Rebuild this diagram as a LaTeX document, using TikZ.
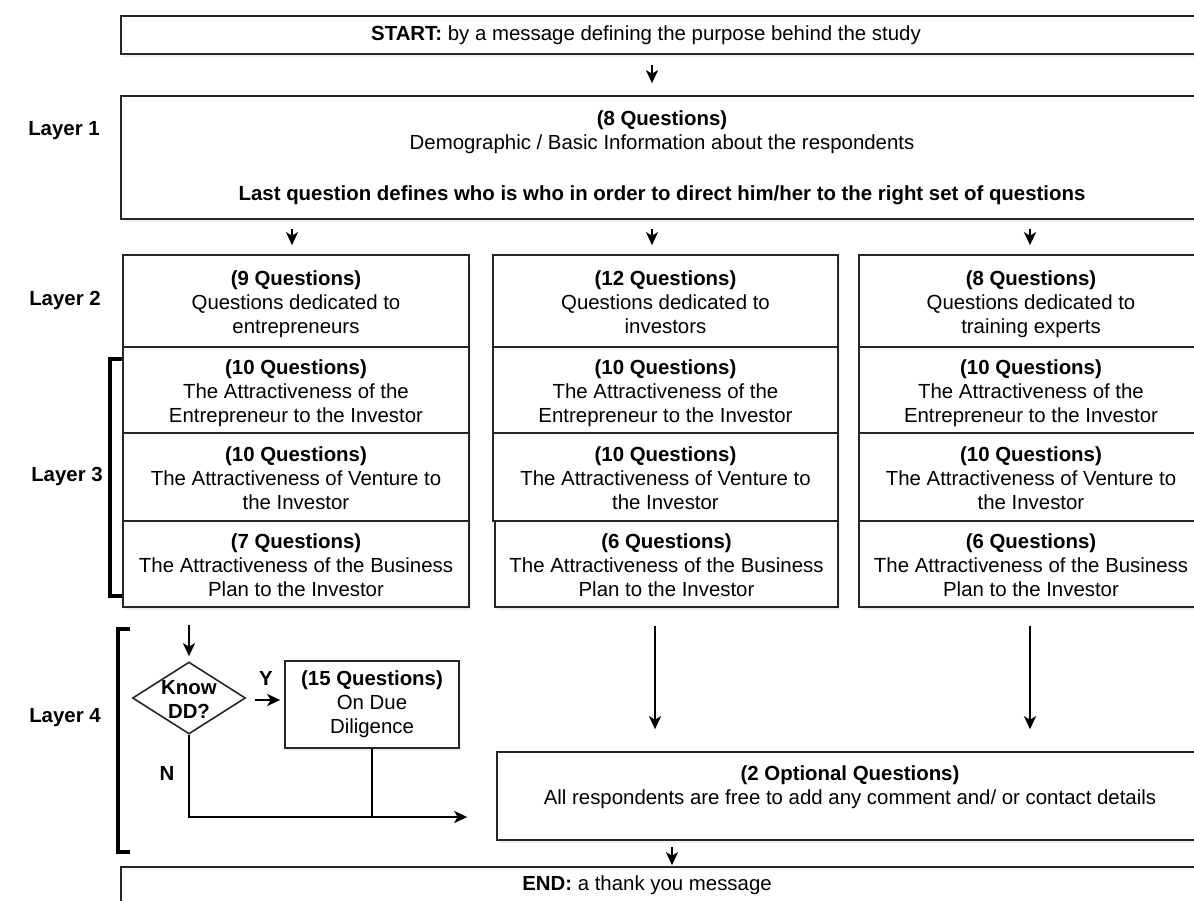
\documentclass[tikz,border=0pt]{standalone}
\usepackage{fontspec}
\setmainfont{Liberation Sans}
\usetikzlibrary{arrows.meta,shapes.geometric,shadows,calc}

\begin{document}
\begin{tikzpicture}[x=1pt,y=-1pt,
  every node/.style={font=\fontsize{20.4}{24}\selectfont, align=center, inner sep=0pt},
  box/.style={draw=black!85, line width=1.6pt, fill=white, rectangle,
    drop shadow={opacity=0.12, shadow xshift=1.5pt, shadow yshift=-2.5pt}},
  qbox/.style={box, text height=72pt, text depth=7pt},
  lbl/.style={font=\fontsize{20.4}{24}\selectfont\bfseries},
  conn/.style={line width=2.6pt, black},
  arr/.style={conn, -{Stealth[length=13pt, width=12pt, inset=3.5pt]}},
  brk/.style={line width=4.2pt, black, line cap=butt, line join=miter},
  diam/.style={diamond, draw=black!85, line width=1.6pt, fill=white,
    minimum width=113pt, minimum height=72pt, inner sep=0pt}
]
\useasboundingbox (0,0) rectangle (1194,900);
\fill[white] (0,0) rectangle (1194,900);
\clip (0,0) rectangle (1194,900);

% start and layer 1
\node[box, minimum width=1082pt, minimum height=38pt] (start) at (662,35) {};
\node (starttxt) at (646,35) {\textbf{START:} by a message defining the purpose behind the study};

\node[box, minimum width=1082pt, minimum height=123pt] (l1) at (662,157.5)
  {\textbf{(8 Questions)}\\Demographic / Basic Information about the respondents\\[27pt]%
   \textbf{Last question defines who is who in order to direct him/her to the right set of questions}};

% column 1
\node[qbox, minimum width=346pt, minimum height=92pt] (c1l2) at (296,301)
  {\textbf{(9 Questions)}\\Questions dedicated to\\entrepreneurs};
\node[qbox, minimum width=346pt, minimum height=86pt] (c1r1) at (296,390)
  {\textbf{(10 Questions)}\\The Attractiveness of the\\Entrepreneur to the Investor};
\node[qbox, minimum width=346pt, minimum height=88pt] (c1r2) at (296,477)
  {\textbf{(10 Questions)}\\The Attractiveness of Venture to\\the Investor};
\node[qbox, minimum width=346pt, minimum height=86pt] (c1r3) at (296,564)
  {\textbf{(7 Questions)}\\The Attractiveness of the Business\\Plan to the Investor};

% column 2
\node[qbox, minimum width=345pt, minimum height=92pt] (c2l2) at (665.5,301)
  {\textbf{(12 Questions)}\\Questions dedicated to\\investors};
\node[qbox, minimum width=345pt, minimum height=86pt] (c2r1) at (665.5,390)
  {\textbf{(10 Questions)}\\The Attractiveness of the\\Entrepreneur to the Investor};
\node[qbox, minimum width=345pt, minimum height=88pt] (c2r2) at (665.5,477)
  {\textbf{(10 Questions)}\\The Attractiveness of Venture to\\the Investor};
\node[qbox, minimum width=343pt, minimum height=86pt] (c2r3) at (666.5,564)
  {\textbf{(6 Questions)}\\The Attractiveness of the Business\\Plan to the Investor};

% column 3
\node[qbox, minimum width=344pt, minimum height=92pt] (c3l2) at (1031,301)
  {\textbf{(8 Questions)}\\Questions dedicated to\\training experts};
\node[qbox, minimum width=344pt, minimum height=86pt] (c3r1) at (1031,390)
  {\textbf{(10 Questions)}\\The Attractiveness of the\\Entrepreneur to the Investor};
\node[qbox, minimum width=344pt, minimum height=88pt] (c3r2) at (1031,477)
  {\textbf{(10 Questions)}\\The Attractiveness of Venture to\\the Investor};
\node[qbox, minimum width=344pt, minimum height=86pt] (c3r3) at (1031,564)
  {\textbf{(6 Questions)}\\The Attractiveness of the Business\\Plan to the Investor};

% layer 4
\node[diam] (dd) at (189,698) {};
\node[lbl] (ddtxt) at (189,699.5) {Know\\DD?};
\node[box, minimum width=174pt, minimum height=87pt] (ddq) at (372,704.5)
  {\textbf{(15 Questions)}\\On Due\\Diligence};
\node[box, minimum width=706pt, minimum height=88pt] (opt) at (850,796) {};
\node (opttxt) at (850,787)
  {\textbf{(2 Optional Questions)}\\All respondents are free to add any comment and/ or contact details};

% end
\node[box, minimum width=1082pt, minimum height=46pt] (endb) at (662,890) {};
\node (endtxt) at (647,885) {\textbf{END:} a thank you message};

% layer labels
\node[lbl] (lay1) at (64,131) {Layer 1};
\node[lbl] (lay2) at (65,300) {Layer 2};
\node[lbl] (lay3) at (67,476) {Layer 3};
\node[lbl] (lay4) at (65,718) {Layer 4};

% brackets
\draw[brk] ([yshift=-13pt]c1r1.north west) -- ++(-12,0) |- ([yshift=12pt]c1r3.south west);
\draw[brk] (130,629) -- (118,629) -- (118,852) -- (130,852);

% connectors
\draw[arr, shorten <=10pt, shorten >=12pt] ([xshift=-10pt]start.south) -- ([xshift=-10pt]l1.north);
\draw[arr, shorten <=9pt, shorten >=9pt] ([xshift=-4pt]c1l2.north |- l1.south) -- ([xshift=-4pt]c1l2.north);
\draw[arr, shorten <=9pt, shorten >=9pt] ([xshift=-13.5pt]c2l2.north |- l1.south) -- ([xshift=-13.5pt]c2l2.north);
\draw[arr, shorten <=9pt, shorten >=9pt] ([xshift=-1pt]c3l2.north |- l1.south) -- ([xshift=-1pt]c3l2.north);

\draw[arr, shorten <=17pt, shorten >=5pt] (dd |- c1r3.south) -- (dd.north);
\draw[arr, shorten <=9pt, shorten >=4pt] ([yshift=-2pt]dd.east) -- ([yshift=-2pt]dd.east -| ddq.west);
\node[lbl] (ylbl) at (266,678) {Y};
\node[lbl] (nlbl) at (167,773) {N};
\coordinate (merge) at (ddq.south |- 0,817);
\draw[conn] (ddq.south) -- (merge);
\draw[arr] (dd.south) |- (merge) -- ([xshift=-29pt]opt.west |- merge);

\draw[arr, shorten <=18pt, shorten >=22pt] ([xshift=-11.5pt]c2r3.south) -- ([xshift=-11.5pt]c2r3.south |- opt.north);
\draw[arr, shorten <=18pt, shorten >=22pt] ([xshift=-1pt]c3r3.south) -- ([xshift=-1pt]c3r3.south |- opt.north);
\draw[arr, shorten <=6pt, shorten >=1pt] ([xshift=-178pt]opt.south) -- ([xshift=-178pt]opt.south |- endb.north);
\end{tikzpicture}
\end{document}
